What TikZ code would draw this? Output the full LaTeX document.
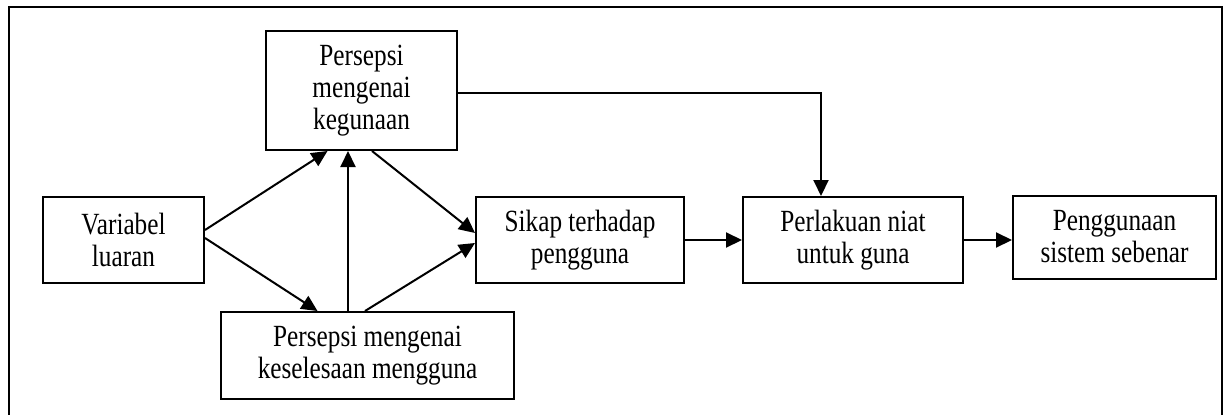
\documentclass[tikz,border=0pt]{standalone}
\usepackage{fontspec}
\setmainfont{Liberation Serif}[FakeStretch=0.82]
\usetikzlibrary{arrows.meta, positioning}

\begin{document}
\begin{tikzpicture}[
    x=1pt, y=1pt,
    every node/.style={font=\fontsize{15.4}{16}\selectfont},
    box/.style={rectangle, draw, line width=1pt, align=center, inner sep=2pt,
                minimum height=43pt},
    arr/.style={-{Triangle[length=8pt, width=7.5pt]}, line width=1pt}
]
\useasboundingbox (0,0) rectangle (612,207);
% outer frame, open at the bottom
\draw[line width=1pt] (4.5,-2) -- (4.5,203.5) -- (611,203.5) -- (611,-2);

\node[box, minimum width=80.5pt] (luar) at (61.75,87) {Variabel\\luaran};
\node[box, minimum width=95.5pt, minimum height=59.5pt, above right=22.5pt and 30pt of luar]
      (guna) {Persepsi\\mengenai\\kegunaan};
\node[box, minimum width=146.5pt, minimum height=43.5pt, below right=13.5pt and 7.5pt of luar]
      (mudah) {Persepsi mengenai\\keselesaan mengguna};

\node[box, minimum width=104pt, right=135pt of luar] (sikap) {Sikap terhadap\\pengguna};
\node[box, minimum width=110pt, right=28.5pt of sikap] (niat) {Perlakuan niat\\untuk guna};
\node[box, minimum width=101.5pt, minimum height=41.5pt, right=24pt of niat, yshift=1.5pt]
      (pakai) {Penggunaan\\sistem sebenar};

\draw[arr] ([yshift=5pt]luar.east) -- ([xshift=-17pt]guna.south);
\draw[arr] ([yshift=1pt]luar.east) -- ([xshift=-25pt]mudah.north);
\draw[arr] ([xshift=-9.75pt]mudah.north) -- ([xshift=-6.75pt]guna.south);
\draw[arr] ([xshift=5.25pt]guna.south) -- ([yshift=3.5pt]sikap.west);
\draw[arr] ([xshift=-1.25pt]mudah.north) -- ([yshift=-1.5pt]sikap.west);
\draw[arr] (sikap) -- (niat);
\draw[arr] (niat.east) -- (niat.east -| pakai.west);
\draw[arr] ([yshift=-1pt]guna.east) -| ([xshift=-16pt]niat.north);
\end{tikzpicture}
\end{document}
